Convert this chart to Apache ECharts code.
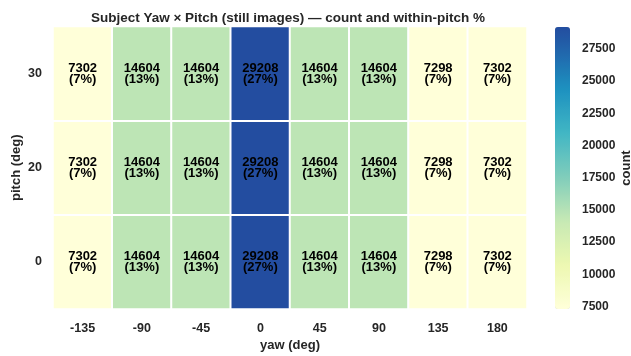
<!DOCTYPE html>
<html>
<head>
<meta charset="utf-8">
<script src="https://cdn.jsdelivr.net/npm/echarts@6/dist/echarts.min.js"></script>
<style>
  html, body { margin: 0; padding: 0; background: #fff; }
  #chart { width: 631px; height: 356px; }
</style>
</head>
<body>
<div id="chart"></div>
<script>
// Yaw / pitch grid of still-image counts
const yawLabels = ['-135', '-90', '-45', '0', '45', '90', '135', '180'];
const pitchLabels = ['0', '20', '30'];           // bottom to top
const countsPitch30 = [7302, 14604, 14604, 29208, 14604, 14604, 7298, 7302];
const countsPitch20 = [7302, 14604, 14604, 29208, 14604, 14604, 7298, 7302];
const countsPitch0  = [7302, 14604, 14604, 29208, 14604, 14604, 7298, 7302];
const colorbarTicks = [7500, 10000, 12500, 15000, 17500, 20000, 22500, 25000, 27500];

const rows = { '0': countsPitch0, '20': countsPitch20, '30': countsPitch30 };

const cells = [];
let vmin = Infinity, vmax = -Infinity;
pitchLabels.forEach((p, yi) => {
  const r = rows[p];
  const total = r.reduce((a, b) => a + b, 0);
  r.forEach((v, xi) => {
    cells.push({ value: [xi, yi, v], pct: Math.round(100 * v / total) });
    vmin = Math.min(vmin, v); vmax = Math.max(vmax, v);
  });
});

// YlGnBu, using the lower 80% of the map
const ylgnbu = ['#ffffd9', '#edf8b1', '#c7e9b4', '#7fcdbb', '#41b6c4', '#1d91c0', '#225ea8', '#253494', '#081d58'];
function hex2rgb(h) { return [1, 3, 5].map(i => parseInt(h.substr(i, 2), 16)); }
function sample(t) {
  const s = t * (ylgnbu.length - 1);
  const i = Math.min(Math.floor(s), ylgnbu.length - 2);
  const f = s - i;
  const a = hex2rgb(ylgnbu[i]), b = hex2rgb(ylgnbu[i + 1]);
  const c = a.map((x, k) => Math.round(x + (b[k] - x) * f));
  return 'rgb(' + c.join(',') + ')';
}
const rampColors = [];
for (let k = 0; k <= 40; k++) rampColors.push(sample(0.8 * k / 40));

const FONT = '"Liberation Sans", Arial, sans-serif';
const INK = '#262626';

const chart = echarts.init(document.getElementById('chart'), null, { renderer: 'canvas' });
chart.setOption({
  animation: false,
  backgroundColor: '#ffffff',
  title: {
    text: 'Subject Yaw × Pitch (still images) — count and within-pitch %',
    left: 283, top: 6, textAlign: 'center',
    textStyle: { fontFamily: FONT, fontSize: 13.5, fontWeight: 'bold', color: INK }
  },
  grid: [
    { left: 53, top: 26.5, width: 474, height: 282.5, outerBoundsMode: 'none', containLabel: false },
    { left: 555, top: 27, width: 15, height: 282, outerBoundsMode: 'none', containLabel: false }
  ],
  xAxis: [
    {
      gridIndex: 0, type: 'category', data: yawLabels,
      name: 'yaw (deg)', nameLocation: 'middle', nameGap: 30, nameMoveOverlap: false,
      nameTextStyle: { fontFamily: FONT, fontSize: 13, fontWeight: 'bold', color: INK },
      axisLine: { show: false }, axisTick: { show: false }, splitLine: { show: false },
      axisLabel: { fontFamily: FONT, fontSize: 12.5, fontWeight: 'bold', color: INK, margin: 13 }
    },
    { gridIndex: 1, type: 'value', show: false }
  ],
  yAxis: [
    {
      gridIndex: 0, type: 'category', data: pitchLabels,
      name: 'pitch (deg)', nameLocation: 'middle', nameGap: 30, nameRotate: 90, nameMoveOverlap: false,
      nameTextStyle: { fontFamily: FONT, fontSize: 13, fontWeight: 'bold', color: INK },
      axisLine: { show: false }, axisTick: { show: false }, splitLine: { show: false },
      axisLabel: { fontFamily: FONT, fontSize: 12.5, fontWeight: 'bold', color: INK, margin: 11 }
    },
    {
      gridIndex: 1, type: 'value', position: 'right', min: vmin, max: vmax,
      name: 'count', nameLocation: 'middle', nameGap: 50, nameRotate: 90, nameMoveOverlap: false,
      nameTextStyle: { fontFamily: FONT, fontSize: 13, fontWeight: 'bold', color: INK },
      axisLine: { show: false }, splitLine: { show: false },
      axisTick: { show: true, length: 5, customValues: colorbarTicks, lineStyle: { color: INK, width: 1 } },
      axisLabel: {
        customValues: colorbarTicks, formatter: v => String(v),
        fontFamily: FONT, fontSize: 12, fontWeight: 'bold', color: INK, margin: 12
      }
    }
  ],
  visualMap: {
    type: 'continuous', seriesIndex: 0, min: vmin, max: vmax,
    calculable: false, orient: 'vertical',
    left: 555, top: 27, itemWidth: 15, itemHeight: 282, padding: 0,
    inRange: { color: rampColors }
  },
  series: [{
    type: 'heatmap', xAxisIndex: 0, yAxisIndex: 0,
    data: cells,
    itemStyle: { borderColor: '#ffffff', borderWidth: 2 },
    label: {
      show: true, fontFamily: FONT, fontSize: 13, fontWeight: 'bold', color: '#000',
      lineHeight: 11,
      formatter: p => p.value[2] + '\n(' + p.data.pct + '%)'
    },
    emphasis: { disabled: true }
  }]
});
</script>
</body>
</html>
